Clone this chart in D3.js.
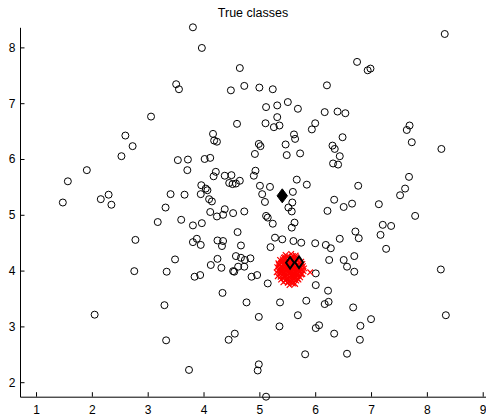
<!DOCTYPE html>
<html>
<head>
<meta charset="utf-8">
<script src="https://cdn.jsdelivr.net/npm/d3@7"></script>
<style>
  body { margin: 0; background: #fff; }
  text { font-family: "Liberation Sans", Arial, Helvetica, sans-serif; }
</style>
</head>
<body>
<div id="chart"></div>
<script>
// data
var samplePts = [
  [3.81,8.36],[3.97,7.99],[4.65,7.63],[4.73,7.31],[3.51,7.34],[3.56,7.25],[4.49,7.23],[3.06,6.76],
  [4.60,6.63],[2.60,6.42],[2.73,6.23],[4.17,6.45],[4.19,6.33],[4.24,6.31],[2.53,6.05],[3.54,5.98],
  [3.72,5.99],[4.02,6.00],[4.12,6.02],[3.71,5.80],[1.91,5.80],[1.57,5.60],[4.22,5.77],[4.18,5.69],
  [4.38,5.70],[4.50,5.71],[4.46,5.57],[4.52,5.55],[4.58,5.56],[4.65,5.61],[3.96,5.53],[4.04,5.47],
  [4.07,5.44],[3.95,5.37],[4.10,5.28],[4.15,5.24],[3.41,5.37],[3.66,5.36],[2.30,5.36],[2.16,5.28],
  [2.35,5.18],[1.48,5.22],[3.32,5.13],[4.38,5.10],
  [3.18,4.87],[3.60,4.91],[4.12,5.05],[4.24,4.97],[4.35,5.00],[4.53,5.03],[4.73,5.06],[3.81,4.81],
  [3.97,4.85],[2.78,4.55],[3.81,4.51],[3.88,4.57],[3.95,4.46],[4.25,4.54],[4.35,4.53],[4.33,4.44],
  [4.61,4.69],[4.67,4.45],[3.49,4.20],[4.25,4.21],[4.13,4.10],[4.32,4.05],[4.58,4.26],[4.67,4.23],
  [4.74,4.19],[4.84,4.22],[2.76,3.99],[3.34,3.98],[3.84,3.89],[3.94,3.92],[4.53,3.99],[4.55,3.98],
  [4.62,4.07],[4.73,4.07],[4.86,3.89],[4.34,3.60],[4.77,3.43],[2.05,3.21],[3.30,3.38],[3.33,2.75],
  [3.74,2.22],[4.45,2.76],[4.56,2.87],
  [8.32,8.24],[6.75,7.74],[6.94,7.59],[6.99,7.62],[5.00,7.28],[5.24,7.25],[6.21,7.32],[5.12,6.93],
  [5.32,6.96],[5.51,7.02],[5.69,6.90],[6.17,6.84],[6.40,6.85],[6.54,6.82],[5.32,6.75],[5.11,6.64],
  [5.26,6.57],[5.36,6.60],[6.00,6.64],[5.94,6.53],[7.69,6.60],[7.64,6.52],[7.73,6.30],[8.26,6.18],
  [6.49,6.39],[5.62,6.44],[5.64,6.36],[4.99,6.27],[5.02,6.23],[4.92,6.09],[5.47,6.26],[5.49,6.07],
  [5.73,6.10],[6.31,6.24],[6.35,6.18],[6.44,6.05],[6.32,5.92],[6.41,5.90],[4.93,5.79],[4.90,5.70],
  [5.01,5.52],[5.19,5.50],[5.05,5.37],[5.10,5.23],[5.67,5.63],[5.85,5.54],[5.60,5.41],[5.59,5.22],
  [5.52,5.13],[5.58,5.06],[6.77,5.52],[6.34,5.27],[6.51,5.14],[6.66,5.20],[7.14,5.19],[7.68,5.68],
  [7.61,5.47],[7.52,5.35],[6.22,5.07],
  [5.12,4.98],[5.15,4.95],[5.24,4.84],[7.79,4.98],[5.63,4.86],[5.58,4.77],[7.21,4.82],[7.36,4.80],
  [7.17,4.64],[6.72,4.70],[6.78,4.58],[6.44,4.57],[7.27,4.39],[5.28,4.59],[5.41,4.56],[5.20,4.42],
  [5.61,4.53],[5.75,4.50],[6.00,4.49],[6.19,4.46],[6.28,4.40],[4.96,3.92],[5.15,3.77],[6.25,4.19],
  [6.51,4.19],[6.57,4.07],[6.70,4.26],[6.70,3.98],[6.01,3.95],[6.01,3.74],[6.23,3.64],[8.25,4.02],
  [5.37,3.43],[5.84,3.46],[6.17,3.40],[6.24,3.44],[4.99,3.17],[5.69,3.20],[6.68,3.34],[7.00,3.13],
  [5.36,3.00],[6.01,2.97],[6.07,3.02],[6.81,3.01],[8.34,3.20],[6.34,2.87],[6.80,2.76],[5.82,2.50],
  [6.57,2.51],[4.99,2.32],[4.97,2.21],[5.12,1.74]
];

// red cluster (estimated, it is a solid blob in the picture)
var clusterPts = [
  [5.50,4.05],[5.55,4.02],[5.60,4.08],[5.58,3.98],[5.52,4.11],[5.62,4.01],[5.47,3.99],[5.56,4.14],
  [5.64,4.12],[5.53,3.95],[5.59,4.04],[5.49,4.08],[5.61,3.96],[5.57,4.09],[5.51,4.00],[5.66,4.06],
  [5.45,4.04],[5.54,4.07],[5.63,3.99],[5.58,4.13],[5.48,3.94],[5.60,4.16],[5.52,4.18],[5.67,4.00],
  [5.44,4.10],[5.56,3.92],[5.62,3.93],[5.50,3.91],[5.65,4.14],[5.46,4.15],[5.59,3.89],[5.53,4.03],
  [5.57,4.01],[5.61,4.10],[5.55,4.11],[5.42,4.02],[5.69,4.04],[5.68,3.95],[5.43,3.96],[5.71,4.09],
  [5.40,4.08],[5.38,4.00],[5.41,3.92],[5.45,3.87],[5.52,3.85],[5.58,3.84],[5.64,3.87],[5.70,3.91],
  [5.73,3.98],[5.74,4.06],[5.72,4.13],[5.68,4.19],[5.62,4.21],[5.55,4.22],[5.48,4.21],[5.42,4.17],
  [5.39,4.13],[5.37,4.05],[5.36,3.95],[5.47,3.82],[5.56,3.80],[5.66,3.82],[5.76,4.01],[5.77,3.94],
  [5.50,4.25],[5.60,4.26],[5.44,4.23],[5.35,4.10],[5.75,4.16],[5.34,4.00],
  [5.33,3.90],[5.39,3.84],[5.60,3.77],[5.51,3.78],[5.70,3.84],[5.79,3.99],[5.78,4.08],[5.57,4.30],
  [5.47,4.28],[5.65,4.27],[5.32,4.06],[5.31,3.97],[5.43,3.79],[5.73,3.88],[5.80,4.04],[5.54,3.74],
  [5.64,3.76],[5.37,4.19],[5.66,4.24],[5.91,3.97],
  [5.48,4.02],[5.53,4.09],[5.57,3.96],[5.63,4.05],[5.46,3.92],[5.54,3.88],[5.61,3.90],[5.67,3.92],
  [5.71,4.00],[5.69,4.11],[5.64,4.17],[5.57,4.18],[5.50,4.16],[5.44,4.13],[5.41,4.05],[5.40,3.97],
  [5.44,3.90],[5.49,3.86],[5.58,3.93],[5.65,3.97],[5.55,4.06],[5.51,4.13],[5.60,4.12],[5.47,4.10],
  [5.42,4.20],[5.58,4.23],[5.52,3.81],[5.62,3.84],[5.36,4.02],[5.72,4.03],[5.38,3.89],[5.75,3.93],
  [5.46,4.24],[5.68,3.86],[5.34,4.13],[5.77,4.12]
];

var meanPts = [[5.55,4.14],[5.71,4.15]];   // open diamonds
var centrePts = [[5.41,5.34]];             // filled diamond

var xTicks = [1, 2, 3, 4, 5, 6, 7, 8, 9];
var yTicks = [2, 3, 4, 5, 6, 7, 8];
var xDomain = [0.713, 9.059];
var yDomain = [1.74, 8.36];

// set the dimensions and margins of the graph
var margin = { top: 27.3, right: 0, bottom: 22.3, left: 20 },
  width = 486 - margin.left - margin.right,
  height = 419 - margin.top - margin.bottom;

var svg = d3.select("#chart")
  .append("svg")
  .attr("width", width + margin.left + margin.right)
  .attr("height", height + margin.top + margin.bottom)
  .style("display", "block")
  .append("g")
  .attr("transform", "translate(" + margin.left + "," + margin.top + ")");

var x = d3.scaleLinear().domain(xDomain).range([0, width]);
var y = d3.scaleLinear().domain(yDomain).range([height, 0]);

// axes, ticks point inwards
var xAxis = svg.append("g")
  .attr("transform", "translate(0," + height + ")")
  .call(d3.axisBottom(x).tickValues(xTicks).tickFormat(d3.format("d"))
    .tickSizeInner(-4.5).tickSizeOuter(0).tickPadding(9));

var yAxis = svg.append("g")
  .call(d3.axisLeft(y).tickValues(yTicks).tickFormat(d3.format("d"))
    .tickSizeInner(-4.5).tickSizeOuter(0).tickPadding(4.5));

[xAxis, yAxis].forEach(function (a) {
  a.select(".domain").attr("stroke", "#000").attr("stroke-width", 1);
  a.selectAll(".tick line").attr("stroke", "#000");
  a.selectAll(".tick text").attr("fill", "#000").style("font-size", "12px");
});

// open circles
svg.append("g").selectAll("circle")
  .data(samplePts)
  .enter()
  .append("circle")
  .attr("cx", function (d) { return x(d[0]); })
  .attr("cy", function (d) { return y(d[1]); })
  .attr("r", 3.5)
  .attr("fill", "none")
  .attr("stroke", "#000")
  .attr("stroke-width", 1);

// red x markers
var s = 2.8;
svg.append("g").selectAll("path")
  .data(clusterPts)
  .enter()
  .append("path")
  .attr("d", function (d) {
    var cx = x(d[0]), cy = y(d[1]);
    return "M" + (cx - s) + "," + (cy - s) + "L" + (cx + s) + "," + (cy + s) +
      "M" + (cx - s) + "," + (cy + s) + "L" + (cx + s) + "," + (cy - s);
  })
  .attr("stroke", "#ff0000")
  .attr("stroke-width", 1.2)
  .attr("fill", "none");

function diamond(w, h) {
  return "M0," + (-h) + "L" + w + ",0L0," + h + "L" + (-w) + ",0Z";
}

// open diamonds
svg.append("g").selectAll("path")
  .data(meanPts)
  .enter()
  .append("path")
  .attr("transform", function (d) { return "translate(" + x(d[0]) + "," + y(d[1]) + ")"; })
  .attr("d", diamond(4, 5.8))
  .attr("fill", "none")
  .attr("stroke", "#000")
  .attr("stroke-width", 2);

// filled diamond
svg.append("g").selectAll("path")
  .data(centrePts)
  .enter()
  .append("path")
  .attr("transform", function (d) { return "translate(" + x(d[0]) + "," + y(d[1]) + ")"; })
  .attr("d", diamond(5.2, 7))
  .attr("fill", "#000")
  .attr("stroke", "#000")
  .attr("stroke-width", 1);

// title
svg.append("text")
  .attr("x", width / 2)
  .attr("y", -10.3)
  .attr("text-anchor", "middle")
  .style("font-size", "12.5px")
  .attr("fill", "#000")
  .text("True classes");
</script>
</body>
</html>
